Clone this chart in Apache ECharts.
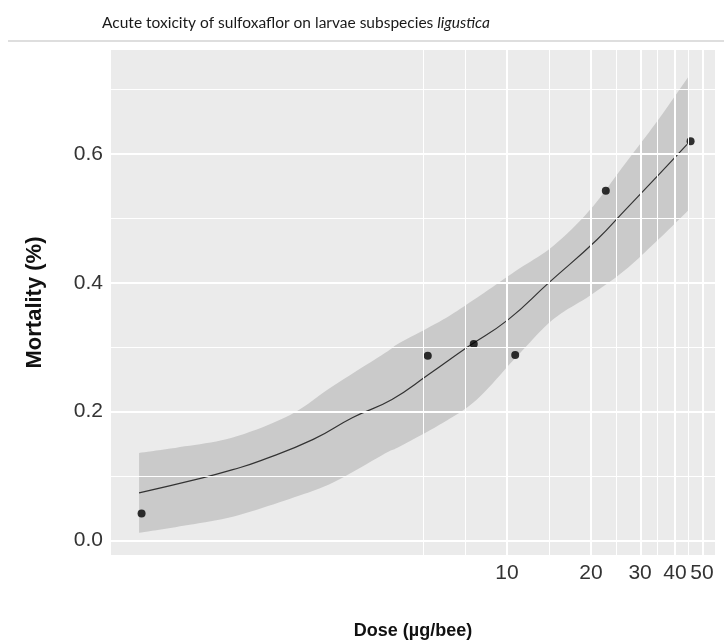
<!DOCTYPE html>
<html>
<head>
<meta charset="utf-8">
<script src="https://cdn.jsdelivr.net/npm/echarts@6/dist/echarts.min.js"></script>
<style>html,body{margin:0;padding:0;background:#fff}#c{width:724px;height:640px}</style>
</head>
<body>
<div id="c"></div>
<script>
// Observed points
const doses = [0.49, 5.2, 7.6, 10.7, 22.6, 45.5];
const mortality = [0.042, 0.287, 0.305, 0.288, 0.543, 0.620];
// Fitted curve
const fitDoses = [0.48, 0.79, 1.04, 1.31, 2.02, 2.80, 3.87, 5.25, 7.20, 10.1, 14.1, 21.0, 26.5, 35.0, 44.2];
const fitValues = [0.074, 0.096, 0.110, 0.124, 0.157, 0.191, 0.219, 0.258, 0.300, 0.343, 0.400, 0.467, 0.513, 0.568, 0.615];
// Confidence band (shared dose grid)
const bandDoses = [0.48, 0.673, 1.04, 1.67, 2.38, 3.65, 4.13, 5.90, 7.80, 10.7, 14.6, 19.8, 26.5, 34.8, 44.5];
const bandUpper = [0.136, 0.145, 0.160, 0.195, 0.240, 0.291, 0.307, 0.343, 0.377, 0.418, 0.457, 0.513, 0.585, 0.653, 0.719];
const bandLower = [0.012, 0.022, 0.037, 0.065, 0.090, 0.135, 0.146, 0.183, 0.219, 0.283, 0.343, 0.380, 0.420, 0.467, 0.512];
// Axes
const xTicks = [10, 20, 30, 40, 50];
const xMinorGrid = [5, 7.07, 14.1, 24.5, 34.6, 44.7];
const yTicks = [0, 0.2, 0.4, 0.6];
const yMinorGrid = [0.1, 0.3, 0.5, 0.7];

const L = Math.log10;
const chart = echarts.init(document.getElementById('c'));

function spline(pts) {
  // Catmull-Rom sampling in pixel space for a smooth edge
  const out = [];
  for (let i = 0; i < pts.length - 1; i++) {
    const p0 = pts[i - 1] || pts[i], p1 = pts[i], p2 = pts[i + 1], p3 = pts[i + 2] || pts[i + 1];
    for (let k = 0; k < 10; k++) {
      const t = k / 10, t2 = t * t, t3 = t2 * t;
      const f = j => 0.5 * ((2 * p1[j]) + (-p0[j] + p2[j]) * t + (2 * p0[j] - 5 * p1[j] + 4 * p2[j] - p3[j]) * t2 + (-p0[j] + 3 * p1[j] - 3 * p2[j] + p3[j]) * t3);
      out.push([f(0), f(1)]);
    }
  }
  out.push(pts[pts.length - 1]);
  return out;
}

const gridLines = []
  .concat(xMinorGrid.map(v => ({xAxis: L(v), lineStyle: {width: 1}})))
  .concat(yMinorGrid.map(v => ({yAxis: v, lineStyle: {width: 1}})))
  .concat(xTicks.map(v => ({xAxis: L(v), lineStyle: {width: 2}})))
  .concat(yTicks.map(v => ({yAxis: v, lineStyle: {width: 2}})));

chart.setOption({
  animation: false,
  backgroundColor: '#ffffff',
  grid: {left: 111, right: 9, top: 50, bottom: 85, show: true, backgroundColor: '#EBEBEB', borderWidth: 0, outerBoundsMode: 'none', containLabel: false},
  graphic: [
    {type: 'line', shape: {x1: 8, y1: 41, x2: 724, y2: 41}, style: {stroke: '#bdbdbd', lineWidth: 1}},
    {type: 'text', x: 296, y: 23, style: {
      text: '{a|Acute toxicity of sulfoxaflor on larvae subspecies }{b|ligustica}',
      align: 'center', verticalAlign: 'middle',
      rich: {
        a: {fontFamily: 'Lato', fontSize: 15.5, fill: '#1a1a1a'},
        b: {fontFamily: 'Lato', fontSize: 15.5, fontStyle: 'italic', fill: '#1a1a1a'}
      }
    }}
  ],
  xAxis: {
    type: 'value', min: -0.4194, max: 1.7455,
    name: 'Dose (µg/bee)', nameLocation: 'middle', nameGap: 67,
    nameTextStyle: {fontFamily: 'Liberation Sans', fontWeight: 'bold', fontSize: 18, color: '#111'},
    axisLine: {show: false},
    splitLine: {show: false},
    axisTick: {show: true, length: 4, lineStyle: {color: '#555'}, customValues: xTicks.map(L)},
    axisLabel: {customValues: xTicks.map(L), margin: 8, fontFamily: 'Liberation Sans', fontSize: 21, color: '#333',
      formatter: v => String(Math.round(Math.pow(10, v)))}
  },
  yAxis: {
    type: 'value', min: -0.0225, max: 0.7616,
    name: 'Mortality (%)', nameLocation: 'middle', nameGap: 65,
    nameTextStyle: {fontFamily: 'Liberation Sans', fontWeight: 'bold', fontSize: 22, color: '#111'},
    axisLine: {show: false},
    splitLine: {show: false},
    axisTick: {show: true, length: 4, lineStyle: {color: '#555'}, customValues: yTicks},
    axisLabel: {customValues: yTicks, margin: 8, fontFamily: 'Liberation Sans', fontSize: 21, color: '#333',
      formatter: v => v.toFixed(1)}
  },
  series: [
    {
      type: 'line', data: [], silent: true, z: 1,
      markLine: {silent: true, symbol: 'none', label: {show: false},
        lineStyle: {color: '#ffffff', type: 'solid'}, data: gridLines}
    },
    {
      type: 'custom', z: 2, silent: true, data: [0],
      renderItem: (params, api) => {
        const up = spline(bandDoses.map((d, i) => api.coord([L(d), bandUpper[i]])));
        const lo = spline(bandDoses.map((d, i) => api.coord([L(d), bandLower[i]])));
        return {
          type: 'polygon',
          shape: {points: up.concat(lo.reverse())},
          style: {fill: 'rgba(153,153,153,0.4)'}
        };
      }
    },
    {
      type: 'line', z: 3, smooth: true, symbol: 'none',
      data: fitDoses.map((d, i) => [L(d), fitValues[i]]),
      lineStyle: {color: '#333', width: 1.2}
    },
    {
      type: 'scatter', z: 4, symbolSize: 8,
      data: doses.map((d, i) => [L(d), mortality[i]]),
      itemStyle: {color: '#000'}
    }
  ]
});
</script>
</body>
</html>
